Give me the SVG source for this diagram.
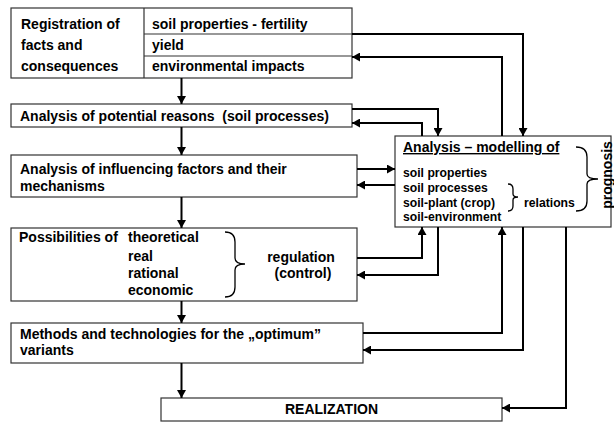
<svg xmlns="http://www.w3.org/2000/svg" width="614" height="423" viewBox="0 0 614 423">
  <defs>
    <marker id="arrow" viewBox="0 0 8 9" refX="8" refY="4.5" markerWidth="8" markerHeight="9" markerUnits="userSpaceOnUse" orient="auto">
      <path d="M0,0 L8,4.5 L0,9 Z" fill="#000"/>
    </marker>
    <style>
      .box{fill:#fff;stroke:#333;stroke-width:1.2}
      .div{fill:none;stroke:#333;stroke-width:1.2}
      .t{font-family:"Liberation Sans",Arial,Helvetica,sans-serif;font-weight:bold;font-size:14px;fill:#000}
      .s{font-size:12.2px}
      .u{text-decoration:underline}
      .c{fill:none;stroke:#000;stroke-width:2;marker-end:url(#arrow)}
      .br{fill:none;stroke:#000;stroke-width:1.3}
    </style>
  </defs>
  <rect width="614" height="423" fill="#fff"/>

  <!-- registration box with three rows on the right -->
  <g id="registration">
    <rect class="box" x="11" y="8" width="341" height="70"/>
    <path class="div" d="M144,8 V78 M144,34 H352 M144,56 H352"/>
    <text class="t" x="21" y="29">Registration of</text>
    <text class="t" x="21" y="50">facts and</text>
    <text class="t" x="21" y="71">consequences</text>
    <text class="t" x="152" y="29">soil properties - fertility</text>
    <text class="t" x="152" y="50">yield</text>
    <text class="t" x="152" y="71">environmental impacts</text>
  </g>

  <g id="reasons">
    <rect class="box" x="11" y="104" width="341" height="23"/>
    <text class="t" x="20" y="121" xml:space="preserve">Analysis of potential reasons  (soil processes)</text>
  </g>

  <g id="factors">
    <rect class="box" x="11" y="155" width="346" height="42"/>
    <text class="t" x="20" y="174">Analysis of influencing factors and their</text>
    <text class="t" x="20" y="191">mechanisms</text>
  </g>

  <g id="possibilities">
    <rect class="box" x="11" y="228" width="346" height="73"/>
    <text class="t" x="19" y="242">Possibilities of</text>
    <text class="t" x="128" y="242">theoretical</text>
    <text class="t" x="128" y="261">real</text>
    <text class="t" x="128" y="278">rational</text>
    <text class="t" x="128" y="295">economic</text>
    <path class="br" d="M225,232 Q235,232 235,242 L235,258 Q235,264 245,264 Q235,264 235,270 L235,287 Q235,297 225,297"/>
    <text class="t" x="301" y="262" text-anchor="middle">regulation</text>
    <text class="t" x="303" y="278" text-anchor="middle">(control)</text>
  </g>

  <g id="methods">
    <rect class="box" x="11" y="323" width="352" height="40"/>
    <text class="t" x="20" y="339">Methods and technologies for the „optimum”</text>
    <text class="t" x="20" y="355">variants</text>
  </g>

  <g id="realization">
    <rect class="box" x="161" y="398" width="341" height="23"/>
    <text class="t" x="331.5" y="414" text-anchor="middle">REALIZATION</text>
  </g>

  <!-- analysis / modelling box on the right -->
  <g id="modelling">
    <rect class="box" x="395" y="136" width="216" height="91"/>
    <text class="t u" x="403" y="152">Analysis – modelling of</text>
    <text class="t s" x="403" y="177">soil properties</text>
    <text class="t s" x="403" y="192">soil processes</text>
    <text class="t s" x="403" y="207">soil-plant (crop)</text>
    <text class="t s" x="403" y="221">soil-environment</text>
    <path class="br" d="M508,184 Q513,184 513,189 L513,194 Q513,197 518,197 Q513,197 513,200 L513,206 Q513,211 508,211"/>
    <text class="t s" x="524" y="207">relations</text>
    <path class="br" d="M576,147 Q587,147 587,157 L587,174 Q587,179 598,179 Q587,179 587,184 L587,201 Q587,211 576,211"/>
    <text class="t" transform="translate(612,175) rotate(-90)" text-anchor="middle">prognosis</text>
  </g>

  <g id="connectors">
    <!-- main vertical flow -->
    <path class="c" d="M181.5,78 V104"/>
    <path class="c" d="M181.5,127 V155"/>
    <path class="c" d="M181.5,197 V228"/>
    <path class="c" d="M181.5,301 V323"/>
    <path class="c" d="M181.5,363 V398"/>
    <!-- feedback loops with the modelling box -->
    <path class="c" d="M352,34 H523 V136"/>
    <path class="c" d="M502,136 V57 H352"/>
    <path class="c" d="M352,109 H438 V136"/>
    <path class="c" d="M422,136 V123 H352"/>
    <path class="c" d="M357,169 H395"/>
    <path class="c" d="M395,185 H357"/>
    <path class="c" d="M357,258 H422 V227"/>
    <path class="c" d="M438,227 V275 H357"/>
    <path class="c" d="M363,333 H502 V227"/>
    <path class="c" d="M523,227 V350 H363"/>
    <path class="c" d="M566,227 V408 H502"/>
  </g>
</svg>
